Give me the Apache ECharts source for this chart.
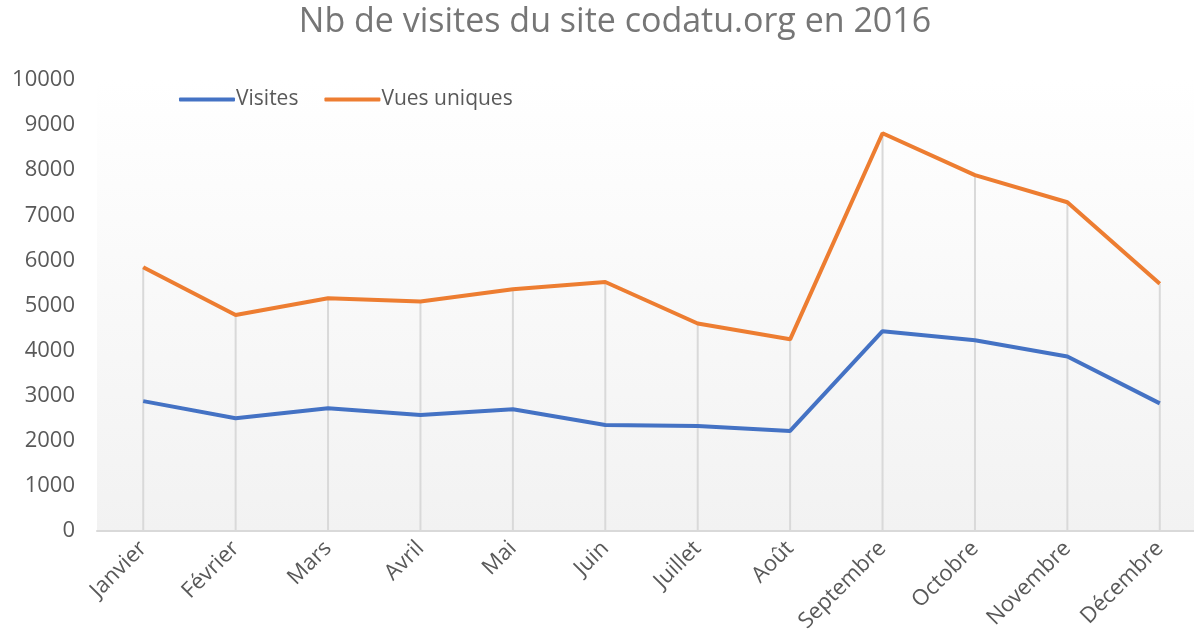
<!DOCTYPE html>
<html>
<head>
<meta charset="utf-8">
<script src="https://cdn.jsdelivr.net/npm/echarts@6/dist/echarts.min.js"></script>
<style>
  html, body { margin: 0; padding: 0; background: #fff; }
  #main { width: 1194px; height: 640px; }
</style>
</head>
<body>
<div id="main"></div>
<script>
  var months = ['Janvier', 'Février', 'Mars', 'Avril', 'Mai', 'Juin', 'Juillet', 'Août', 'Septembre', 'Octobre', 'Novembre', 'Décembre'];
  var visites = [2880, 2500, 2720, 2570, 2700, 2350, 2330, 2220, 4430, 4230, 3870, 2830];
  var vuesUniques = [5850, 4790, 5160, 5090, 5360, 5520, 4600, 4250, 8820, 7890, 7290, 5480];

  // drop lines go from the highest point down to the axis
  var dropLines = months.map(function (m, i) {
    return Math.max(visites[i], vuesUniques[i]);
  });

  var chart = echarts.init(document.getElementById('main'), null, { renderer: 'canvas' });

  var font = '"Open Sans", sans-serif';

  var option = {
    animation: false,
    title: {
      text: 'Nb de visites du site codatu.org en 2016',
      left: 610,
      textAlign: 'center',
      top: 0,
      textStyle: { color: '#767676', fontSize: 34, fontWeight: 'normal', fontFamily: font }
    },
    legend: {
      left: 174,
      top: 84,
      itemWidth: 56,
      itemHeight: 4,
      itemGap: 26,
      icon: 'roundRect',
      textStyle: { color: '#595959', fontSize: 21, fontFamily: font, padding: [0, 0, 0, -4] },
      data: ['Visites', 'Vues uniques']
    },
    grid: {
      left: 97,
      top: 80,
      width: 1109,
      height: 451,
      outerBoundsMode: 'none',
      show: true,
      borderWidth: 0,
      backgroundColor: new echarts.graphic.LinearGradient(0, 0, 0, 1, [
        { offset: 0, color: '#ffffff' },
        { offset: 1, color: '#f2f2f2' }
      ])
    },
    xAxis: {
      type: 'category',
      data: months,
      boundaryGap: true,
      axisLine: { lineStyle: { color: '#d9d9d9', width: 2 } },
      axisTick: { show: false },
      axisLabel: { rotate: 45, color: '#595959', fontSize: 22, fontFamily: font, margin: 14, interval: 0 },
      splitLine: { show: false }
    },
    yAxis: {
      type: 'value',
      min: 0,
      max: 10000,
      interval: 1000,
      axisLine: { show: false },
      axisTick: { show: false },
      splitLine: { show: false },
      axisLabel: {
        color: '#595959', fontSize: 22, fontFamily: font, margin: 22,
        formatter: function (v) { return String(v); }
      }
    },
    series: [
      {
        name: 'drop',
        type: 'bar',
        data: dropLines,
        barWidth: 2,
        itemStyle: { color: '#d9d9d9' },
        silent: true,
        z: 1
      },
      {
        name: 'Visites',
        type: 'line',
        data: visites,
        symbol: 'none',
        lineStyle: { color: '#4472C4', width: 4 },
        itemStyle: { color: '#4472C4' },
        z: 3
      },
      {
        name: 'Vues uniques',
        type: 'line',
        data: vuesUniques,
        symbol: 'none',
        lineStyle: { color: '#ED7D31', width: 4 },
        itemStyle: { color: '#ED7D31' },
        z: 3
      }
    ]
  };

  chart.setOption(option);
  window.addEventListener('resize', chart.resize);
</script>
</body>
</html>
